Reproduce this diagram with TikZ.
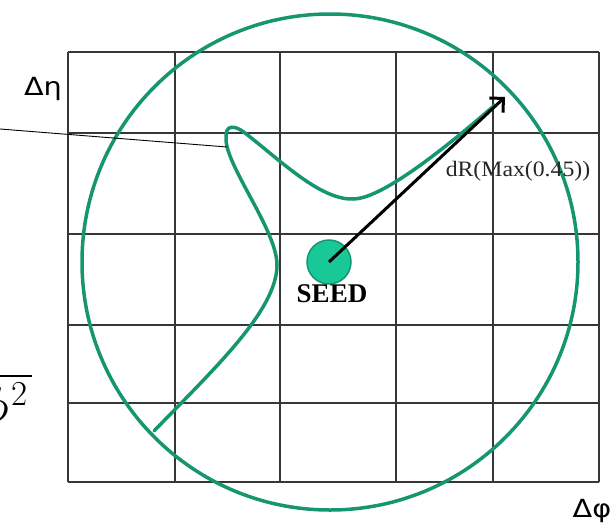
\documentclass[tikz,border=0pt]{standalone}
\usepackage{graphicx}
\usepackage{fontspec}
\setmainfont{Liberation Serif}
\newfontfamily\sansf{DejaVu Sans}
\newfontfamily\lmr{Latin Modern Roman}
\usetikzlibrary{arrows.meta}
\definecolor{curvegreen}{RGB}{22,150,112}
\definecolor{seedfill}{RGB}{24,200,150}
\definecolor{gridgray}{RGB}{55,55,55}
\begin{document}
\begin{tikzpicture}[x=1pt,y=-1pt,
  gridline/.style={draw=gridgray,line width=1.3pt},
  greenline/.style={draw=curvegreen,line width=3.5pt,line cap=round},
  axislabel/.style={font=\sansf\fontsize{25}{25}\selectfont,inner sep=0pt},
  pointer/.style={draw=black,line width=0.9pt}]
\useasboundingbox (0,0) rectangle (616,525);
% grid
\foreach \x in {68,175,280,396,493,599} \draw[gridline] (\x,52) -- (\x,482);
\foreach \y in {52,133,234,325,403,482} \draw[gridline] (68,\y) -- (599,\y);
% cone circle
\node[circle,draw=curvegreen,line width=3.5pt,minimum size=496pt,inner sep=0pt] (cone) at (330,262) {};
% shower curve
\draw[greenline] (154,431) .. controls (215,368) and (277,310) .. (277,265)
  .. controls (277,230) and (225,165) .. (226,138)
  .. controls (225,124) and (235,125) .. (245,133)
  .. controls (280,160) and (320,200) .. (353,199)
  .. controls (375,199) and (420,170) .. (495,105);
% pointer line
\coordinate (lfree) at (0,129);
\coordinate (lend) at (227,147);
\draw[pointer] (lfree) -- (lend);
% seed
\node[circle,fill=seedfill,draw=curvegreen,line width=1.5pt,minimum size=44pt,inner sep=0pt] (seed) at (329,262) {};
\coordinate (tip) at (505,97);
\draw[line width=3pt,-{Straight Barb[length=10pt,width=20pt]}] (seed.center) -- (tip);
% labels
\node[axislabel] (deta) at (43,89) {\scalebox{1.15}[1]{Δη}};
\node[axislabel] (dphi) at (592,511) {\scalebox{1.15}[1]{Δφ}};
\node[font=\bfseries\fontsize{27}{27}\selectfont,inner sep=0pt] (seedlbl) at (332,294) {SEED};
\node[font=\fontsize{22}{22}\selectfont,inner sep=0pt,text=black!85] (drlbl) at (518,171) {\scalebox{1.08}[1]{dR(Max(0.45))}};
% cropped formula fragment
\begin{scope}
\clip (0,0) rectangle (616,525);
\draw[line width=1.8pt] (0,376) -- (32,376);
\node[font=\lmr\fontsize{35}{35}\selectfont,inner sep=0pt] (sqtwo) at (19.5,393.5) {2};
\node[anchor=east,inner sep=0pt] (sqphi) at (9,410) {\scalebox{5}{$\phi$}};
\end{scope}
\end{tikzpicture}
\end{document}
